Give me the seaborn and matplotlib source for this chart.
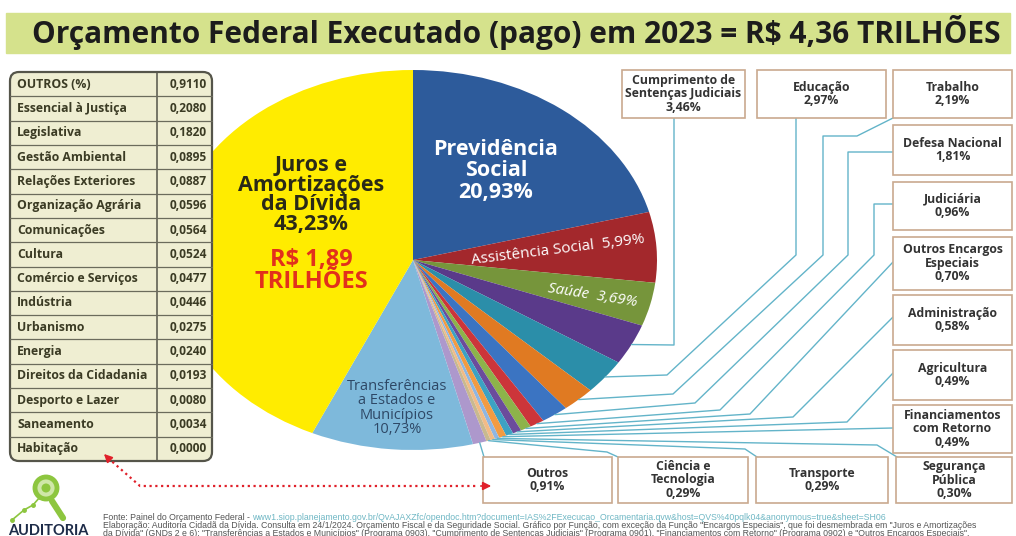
import matplotlib.pyplot as plt
import numpy as np
import seaborn as sns
from matplotlib.patches import FancyBboxPatch, Rectangle, Circle

sns.set_theme(style="white")
plt.rcParams['font.family'] = ['Open Sans', 'DejaVu Sans']

# pie slices, clockwise from 12 o'clock
funcoes = ["Previdência Social", "Assistência Social", "Saúde",
           "Cumprimento de Sentenças Judiciais", "Educação", "Trabalho",
           "Defesa Nacional", "Judiciária", "Outros Encargos Especiais",
           "Administração", "Agricultura", "Financiamentos com Retorno",
           "Segurança Pública", "Transporte", "Ciência e Tecnologia", "Outros",
           "Transferências a Estados e Municípios", "Juros e Amortizações da Dívida"]
percentuais = [20.93, 5.99, 3.69, 3.46, 2.97, 2.19, 1.81, 0.96, 0.70,
               0.58, 0.49, 0.49, 0.30, 0.29, 0.29, 0.91, 10.73, 43.23]
cores = ["#2d5b9b", "#a3282c", "#76953b", "#5a3a8a", "#2b8ea9", "#e07a22",
         "#3b74c2", "#cc353a", "#8db34a", "#6b4c9c", "#3ca2c3", "#f29b42",
         "#8fb6e2", "#f2bb86", "#c9b98f", "#ad98cc", "#7eb9db", "#ffec00"]

# small functions grouped as "Outros"
outros_nomes = ["OUTROS (%)", "Essencial à Justiça", "Legislativa", "Gestão Ambiental",
                "Relações Exteriores", "Organização Agrária", "Comunicações", "Cultura",
                "Comércio e Serviços", "Indústria", "Urbanismo", "Energia",
                "Direitos da Cidadania", "Desporto e Lazer", "Saneamento", "Habitação"]
outros_valores = [0.9110, 0.2080, 0.1820, 0.0895, 0.0887, 0.0596, 0.0564, 0.0524,
                  0.0477, 0.0446, 0.0275, 0.0240, 0.0193, 0.0080, 0.0034, 0.0000]

# label text of the callout boxes
rotulos = {
    "Cumprimento de Sentenças Judiciais": "Cumprimento de\nSentenças Judiciais",
    "Educação": "Educação", "Trabalho": "Trabalho",
    "Defesa Nacional": "Defesa Nacional", "Judiciária": "Judiciária",
    "Outros Encargos Especiais": "Outros Encargos\nEspeciais",
    "Administração": "Administração", "Agricultura": "Agricultura",
    "Financiamentos com Retorno": "Financiamentos\ncom Retorno",
    "Segurança Pública": "Segurança\nPública", "Transporte": "Transporte",
    "Ciência e Tecnologia": "Ciência e\nTecnologia", "Outros": "Outros",
}

# layout (pixels): box extents and leader route after the wedge edge
caixas = {
    "Cumprimento de Sentenças Judiciais": ((622, 70, 745, 118), [(674, 345), (674, 118)]),
    "Educação": ((757, 70, 886, 118), [(667, 375), (796, 255), (796, 118)]),
    "Trabalho": ((893, 70, 1012, 118), [(673, 394), (823, 255), (823, 136), (857, 136), (893, 118)]),
    "Defesa Nacional": ((893, 125, 1012, 175), [(695, 403), (848, 255), (848, 152), (893, 152)]),
    "Judiciária": ((893, 182, 1012, 230), [(720, 410), (874, 255), (874, 204), (893, 204)]),
    "Outros Encargos Especiais": ((893, 237, 1012, 290), [(750, 414), (893, 262)]),
    "Administração": ((893, 295, 1012, 345), [(793, 417), (893, 317)]),
    "Agricultura": ((893, 350, 1012, 400), [(847, 422), (893, 373)]),
    "Financiamentos com Retorno": ((893, 405, 1012, 453), [(893, 428)]),
    "Segurança Pública": ((896, 457, 1012, 503), [(877, 445), (897, 457)]),
    "Transporte": ((756, 457, 888, 503), [(745, 449), (757, 457)]),
    "Ciência e Tecnologia": ((618, 457, 748, 503), [(607, 452), (618, 457)]),
    "Outros": ((483, 457, 612, 503), [(484, 457)]),
}

W, H = 1016, 536
fig = plt.figure(figsize=(W / 100, H / 100), dpi=100)
fig.patch.set_facecolor("white")

# pie, stretched into an ellipse like the original
ax = fig.add_axes([169 / W, (H - 450) / H, 488 / W, 380 / H], zorder=1)
wedges, _ = ax.pie(percentuais, colors=sns.color_palette(cores), startangle=90,
                   counterclock=False, radius=1, wedgeprops=dict(linewidth=0))
ax.set_aspect("auto")
ax.set_xlim(-1, 1)
ax.set_ylim(-1, 1)
ax.axis("off")

# overlay in pixel coordinates
ov = fig.add_axes([0, 0, 1, 1], zorder=3)
ov.set_xlim(0, W)
ov.set_ylim(H, 0)
ov.axis("off")
ov.patch.set_alpha(0)

# title band
ov.add_patch(Rectangle((6, 13), 1004, 40, color="#d5e28c", zorder=1))
ov.text(516, 33, "Orçamento Federal Executado (pago) em 2023 = R$ 4,36 TRILHÕES",
        ha="center", va="center", fontsize=21.5, fontweight="bold",
        color="#1c1c1c", zorder=2)

# table of the small functions
tx0, tx1, ty0, ty1, tcol = 10, 212, 72, 461, 157
rh = (ty1 - ty0) / len(outros_nomes)
ov.add_patch(FancyBboxPatch((tx0, ty0), tx1 - tx0, ty1 - ty0,
                            boxstyle="round,pad=0,rounding_size=9",
                            fc="#efeed2", ec="#55554a", lw=1.6, zorder=4))
ov.plot([tcol, tcol], [ty0, ty1], color="#55554a", lw=1.1, zorder=5)
for i, (nome, v) in enumerate(zip(outros_nomes, outros_valores)):
    yc = ty0 + rh * (i + 0.5)
    if i > 0:
        ov.plot([tx0, tx1], [ty0 + rh * i] * 2, color="#6b6b5c", lw=0.9, zorder=5)
    ov.text(tx0 + 7, yc, nome, ha="left", va="center", fontsize=8.8,
            fontweight="bold", color="#3b3b24", zorder=6)
    ov.text(tx1 - 5, yc, f"{v:.4f}".replace(".", ","), ha="right", va="center",
            fontsize=8.6, fontweight="bold", color="#3b3b24", zorder=6)

# texts on the pie
ov.text(311, 195, "Juros e\nAmortizações\nda Dívida\n43,23%", ha="center", va="center",
        fontsize=15.5, fontweight="bold", color="#2a2a18", linespacing=0.93, zorder=3)
ov.text(311, 271, "R$ 1,89\nTRILHÕES", ha="center", va="center", fontsize=17,
        fontweight="bold", color="#e2301c", linespacing=0.92, zorder=3)
ov.text(496, 171, "Previdência\nSocial\n20,93%", ha="center", va="center",
        fontsize=15.5, fontweight="bold", color="white", linespacing=1.05, zorder=3)
ov.text(558, 250, "Assistência Social  5,99%", ha="center", va="center",
        fontsize=11, color="white", rotation=7, zorder=3)
ov.text(592, 296, "Saúde  3,69%", ha="center", va="center", fontsize=11,
        color="white", style="italic", rotation=-9, zorder=3)
ov.text(397, 408, "Transferências\na Estados e\nMunicípios\n10,73%", ha="center",
        va="center", fontsize=10.5, color="#2e4866", linespacing=0.92, zorder=3)

# callout boxes with leader lines
fig.canvas.draw()
to_px = ov.transData.inverted()
for nome, ((x0, y0, x1, y1), rota) in caixas.items():
    k = funcoes.index(nome)
    w = wedges[k]
    ang = np.deg2rad((w.theta1 + w.theta2) / 2)
    sx, sy = to_px.transform(ax.transData.transform((np.cos(ang), np.sin(ang))))
    pts = [(sx, sy)] + rota
    ov.plot([p[0] for p in pts], [p[1] for p in pts], color="#63b4c9", lw=1.0, zorder=2)
    ov.add_patch(Rectangle((x0, y0), x1 - x0, y1 - y0, fc="white", ec="#c9a98f",
                           lw=1.2, zorder=3))
    pct = f"{percentuais[k]:.2f}%".replace(".", ",")
    ov.text((x0 + x1) / 2, (y0 + y1) / 2, f"{rotulos[nome]}\n{pct}", ha="center",
            va="center", fontsize=8.8, fontweight="bold", color="#333333",
            linespacing=1.05, zorder=4)

# red dotted pointer from the table to "Outros"
red = "#e0202a"
ov.plot([108, 140, 478], [458, 486, 486], ls=(0, (1, 1.6)), color=red, lw=1.6, zorder=6)
ov.annotate("", xy=(102, 452), xytext=(110, 460),
            arrowprops=dict(arrowstyle="-|>", color=red, lw=1.2, mutation_scale=12), zorder=6)
ov.annotate("", xy=(494, 486), xytext=(478, 486),
            arrowprops=dict(arrowstyle="-|>", color=red, lw=1.2, mutation_scale=12), zorder=6)

# logo
verde = "#8dc63f"
ov.plot([12, 24, 33, 40], [520, 510, 505, 497], color=verde, lw=1.2, marker="o", ms=2.5, zorder=3)
ov.plot([52, 63], [501, 518], color=verde, lw=4.5, solid_capstyle="round", zorder=3)
ov.add_patch(Circle((46, 488), 11, fc="#cfe7a8", ec=verde, lw=3.5, zorder=4))
ov.add_patch(Circle((46, 488), 4.5, fc=verde, ec="none", zorder=5))
ov.text(8, 531, "AUDITORIA", ha="left", va="center", fontsize=10.5, fontweight="bold",
        color="#1d2b48", family=["Lato", "DejaVu Sans"], zorder=4)

# footer
fs = 6.3
rodape = ["Liberation Sans Narrow", "Liberation Sans", "DejaVu Sans"]
fonte = ov.text(103, 518, "Fonte: Painel do Orçamento Federal - ", ha="left", va="center",
                fontsize=fs, color="#555555", family=rodape)
fig.canvas.draw()
bb = fonte.get_window_extent()
ux = to_px.transform((bb.x1, bb.y0))[0]
ov.text(ux, 518, "www1.siop.planejamento.gov.br/QvAJAXZfc/opendoc.htm?document=IAS%2FExecucao_Orcamentaria.qvw&host=QVS%40pqlk04&anonymous=true&sheet=SH06",
        ha="left", va="center", fontsize=fs, color="#6fb7c4", family=rodape)
ov.text(103, 526, "Elaboração: Auditoria Cidadã da Dívida. Consulta em 24/1/2024. Orçamento Fiscal e da Seguridade Social. "
        "Gráfico por Função, com exceção da Função \"Encargos Especiais\", que foi desmembrada em \"Juros e Amortizações",
        ha="left", va="center", fontsize=fs, color="#555555", family=rodape)
ov.text(103, 534, "da Dívida\" (GNDs 2 e 6); \"Transferências a Estados e Municípios\" (Programa 0903), "
        "\"Cumprimento de Sentenças Judiciais\" (Programa 0901), \"Financiamentos com Retorno\" (Programa 0902) e \"Outros Encargos Especiais\".",
        ha="left", va="center", fontsize=fs, color="#555555", family=rodape)

fig.savefig("out.png", dpi=100)
